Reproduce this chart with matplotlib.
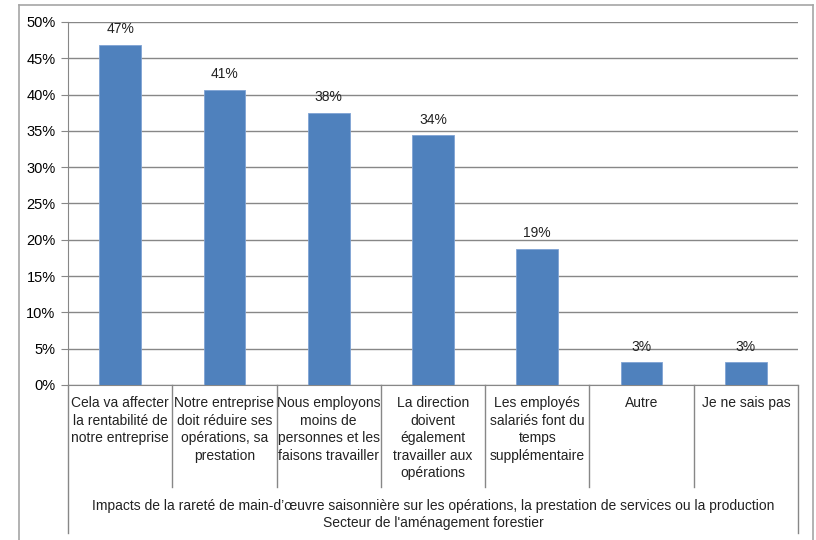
import matplotlib.pyplot as plt
import matplotlib.transforms as mtransforms
from matplotlib.lines import Line2D

# data
categories = [
    "Cela va affecter\nla rentabilité de\nnotre entreprise",
    "Notre entreprise\ndoit réduire ses\nopérations, sa\nprestation",
    "Nous employons\nmoins de\npersonnes et les\nfaisons travailler",
    "La direction\ndoivent\négalement\ntravailler aux\nopérations",
    "Les employés\nsalariés font du\ntemps\nsupplémentaire",
    "Autre",
    "Je ne sais pas",
]
values = [46.9, 40.7, 37.5, 34.4, 18.8, 3.1, 3.1]
yticks = [0, 5, 10, 15, 20, 25, 30, 35, 40, 45, 50]
group_title = ("Impacts de la rareté de main-d’œuvre saisonnière sur les opérations, "
               "la prestation de services ou la production\nSecteur de l'aménagement forestier")

plt.rcParams['font.family'] = ['Liberation Sans', 'DejaVu Sans']

W, H = 816, 540
fig = plt.figure(figsize=(W / 100, H / 100), dpi=100)

# plot area in pixels
left, right, top, bottom = 68, 798, 22, 385
ax = fig.add_axes([left / W, 1 - bottom / H, (right - left) / W, (bottom - top) / H])

grid_col = '#878787'
bar_col = '#4F81BD'

x = list(range(len(values)))
bars = ax.bar(x, values, width=0.4, color=bar_col, edgecolor='#7FA3D4', linewidth=0.6, zorder=3)
for xi, v in zip(x, values):
    ax.annotate('%d%%' % round(v), (xi, v), xytext=(0, 6), textcoords='offset points',
                ha='center', va='bottom', fontsize=10, color='#222222')

ax.set_xlim(-0.5, len(values) - 0.5)
ax.set_ylim(0, 50)
ax.set_yticks(yticks)
ax.set_yticklabels(['%d%%' % t for t in yticks], fontsize=10.5)
ax.tick_params(axis='y', length=5, color=grid_col, pad=4)
ax.set_xticks([])
ax.yaxis.grid(True, color=grid_col, linewidth=1)
ax.set_axisbelow(True)
for s in ['top', 'right']:
    ax.spines[s].set_visible(False)
ax.spines['left'].set_color(grid_col)
ax.spines['bottom'].set_color(grid_col)

# category separators below the axis
px = (bottom - top)
trans = mtransforms.blended_transform_factory(ax.transData, ax.transAxes)
inner_y = -(487 - bottom) / px
outer_y = -(533 - bottom) / px
for i in range(len(values) + 1):
    y1 = outer_y if i in (0, len(values)) else inner_y
    ax.plot([i - 0.5, i - 0.5], [0, y1], transform=trans, color=grid_col,
            linewidth=1, clip_on=False)

for xi, lab in zip(x, categories):
    ax.text(xi, -(396 - bottom) / px, lab, transform=trans, ha='center', va='top',
            fontsize=10, linespacing=1.32, color='#222222')

ax.text(3, -(499 - bottom) / px, group_title, transform=trans, ha='center', va='top',
        fontsize=10, linespacing=1.3, color='#222222')

# outer chart frame
fc = '#A6A6A6'
for xs, ys in [((19, 19), (5, 545)), ((19, 813), (5, 5)), ((813, 813), (5, 545))]:
    fig.add_artist(Line2D([v / W for v in xs], [1 - v / H for v in ys],
                          color=fc, linewidth=1.2, transform=fig.transFigure))

fig.savefig('out.png', dpi=100)
